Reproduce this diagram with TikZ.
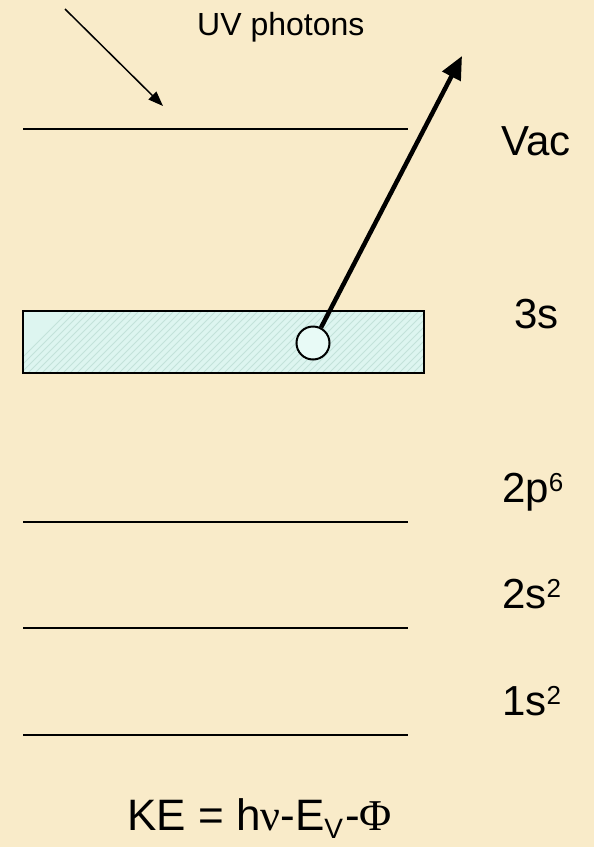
\documentclass[tikz,border=0pt]{standalone}
\usepackage{fontspec}
\setmainfont{Liberation Sans}
\newfontfamily\symfont{Liberation Serif}
\usetikzlibrary{arrows.meta}
\definecolor{parch}{HTML}{F9EBC9}
\definecolor{bandfill}{HTML}{DDF5F0}
\definecolor{hatch}{HTML}{C3E2DA}
\definecolor{dotfill}{HTML}{E8FAF6}
\tikzset{
  lbl/.style={anchor=base west, inner sep=0pt, font=\fontsize{42}{50}\selectfont},
  level/.style={line width=1.6pt, black},
  thinarrow/.style={line width=1.5pt, -{Triangle[length=15pt,width=11pt]}},
  thickarrow/.style={line width=4.5pt, -{Triangle[length=23pt,width=20pt]}},
}
\newcommand{\supx}[1]{\raisebox{11pt}{\fontsize{26}{26}\selectfont #1}}
\begin{document}
\begin{tikzpicture}[x=1pt,y=-1pt]
\useasboundingbox (0,0) rectangle (594,847);
\fill[parch] (0,0) rectangle (594,847);
% band
\fill[bandfill] (23,311) rectangle (424,373);
\begin{scope}
\clip (23,311) rectangle (424,373);
\foreach \i in {0,7,...,480} {
  \draw[hatch, line width=0.8pt] (\i,380) -- (\i+80,300);
}
\end{scope}
\draw[line width=2pt] (23,311) rectangle (424,373);
% levels
\draw[level] (23,129) -- (408,129);
\draw[level] (23,522) -- (408,522);
\draw[level] (23,628) -- (408,628);
\draw[level] (23,735) -- (408,735);
% UV photons
\coordinate (uvs) at (65,9);
\coordinate (uve) at (163,106);
\draw[thinarrow] (uvs) -- (uve);
\node[anchor=base west, inner sep=0pt, font=\fontsize{32}{38}\selectfont] (uv) at (197,35) {UV photons};
% electron
\node[circle, draw, line width=2pt, fill=dotfill, minimum size=33pt, inner sep=0pt] (e) at (313,343) {};
\coordinate (tip) at (462,56);
\draw[thickarrow] (e) -- (tip);
% labels
\node[lbl] (vac) at (501,155) {Vac};
\node[lbl] (s3) at (514,328) {3s};
\node[lbl] (p2) at (502,502) {2p\supx{6}};
\node[lbl] (s2) at (502,608) {2s\supx{2}};
\node[lbl] (s1) at (502,715) {1s\supx{2}};
\node[anchor=base west, inner sep=0pt, font=\fontsize{44}{50}\selectfont] (ke) at (127,830) {KE = h{\symfont ν}-E\raisebox{-8pt}{\fontsize{28}{28}\selectfont V}\hspace{2pt}-{\symfont Φ}};
\end{tikzpicture}
\end{document}
